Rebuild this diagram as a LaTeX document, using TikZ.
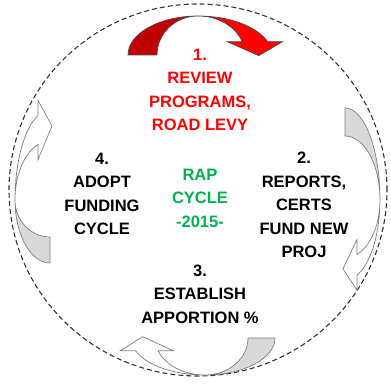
\documentclass[tikz,border=0pt]{standalone}
\usepackage{fontspec}
\setmainfont{Liberation Sans}

\definecolor{levyred}{HTML}{FF0000}
\definecolor{levydark}{HTML}{C00000}
\definecolor{rapgreen}{HTML}{00B050}
\definecolor{backgray}{HTML}{D9D9D9}
\definecolor{edgegray}{HTML}{7F7F7F}
\colorlet{arrowedge}{black!70}

\tikzset{
  steptext/.style={font=\fontsize{16.5}{23.5}\selectfont\bfseries, align=center},
  cycleline/.style={line width=1.1pt, dash pattern=on 5pt off 3pt, black!80},
}

% curved arrow: centre, rotation, back outer/inner radius, front outer/inner radius, bulge, back fill, front fill
\newcommand{\cyclearrow}[9]{%
  \begin{scope}[shift={(#1)},rotate=#2]
    % back face
    \filldraw[fill=#8, draw=arrowedge, line width=0.7pt]
      (-#3,0) arc[start angle=180, end angle=90, x radius=#3, y radius=#7]
      arc[start angle=90, end angle=180, x radius=#4, y radius=#7] -- cycle;
    % front face with head
    \filldraw[fill=#9, draw=arrowedge, line width=0.7pt]
      (0,#7) arc[start angle=90, end angle=20, x radius=#5, y radius=#7]
      -- ++(15,0)
      -- ({(#5+#6)/2*cos(20)+4},{#7*sin(20)-14})
      -- ({#6*cos(20)-15},{#7*sin(20)})
      -- ({#6*cos(20)},{#7*sin(20)})
      arc[start angle=20, end angle=90, x radius=#6, y radius=#7] -- cycle;
  \end{scope}}

\begin{document}
\begin{tikzpicture}[x=1pt,y=1pt]
  \useasboundingbox (0,0) rectangle (391,383);

  \draw[cycleline] (198,193) ellipse[x radius=189, y radius=186];

  % the four arrows
  \cyclearrow{198,328}{0}{70}{41}{74}{47}{39}{levydark}{levyred}
  \colorlet{arrowedge}{edgegray}
  \cyclearrow{345,183}{-90}{92}{64}{80}{58}{35}{backgray}{white}
  \cyclearrow{205,45}{180}{70}{43}{74}{50}{37}{backgray}{white}
  \cyclearrow{50,183}{90}{63}{37}{90}{59}{35}{backgray}{white}

  % step texts
  \node[steptext, text=levyred] (review) at (200,293)
    {1.\\REVIEW\\PROGRAMS,\\ROAD LEVY};
  \node[steptext] (reports) at (304,178)
    {2.\\REPORTS,\\CERTS\\FUND NEW\\PROJ};
  \node[steptext] (establish) at (200,89)
    {3.\\ESTABLISH\\APPORTION \%};
  \node[steptext] (adopt) at (102,189)
    {4.\\ADOPT\\FUNDING\\CYCLE};
  \node[steptext, text=rapgreen] (rapcycle) at (200,185)
    {RAP\\CYCLE\\-2015-};
\end{tikzpicture}
\end{document}
